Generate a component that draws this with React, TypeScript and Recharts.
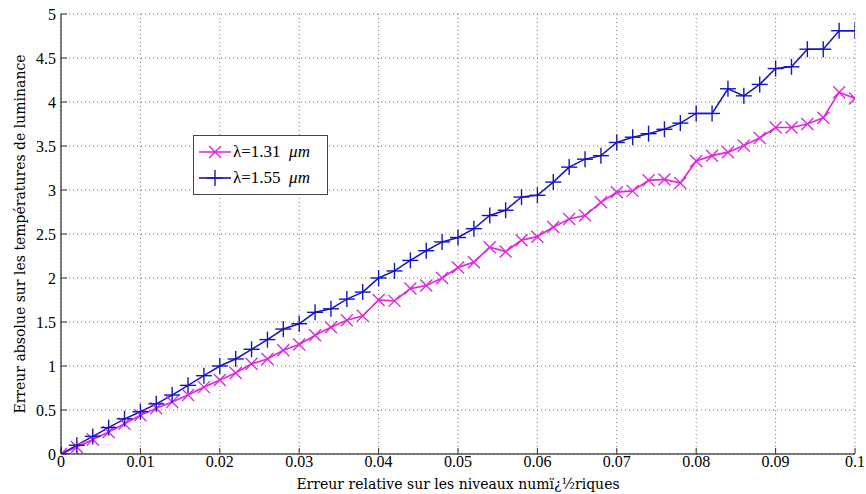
import React from 'react';
import { LineChart, Line, XAxis, YAxis, CartesianGrid, Legend } from 'recharts';

const xValues = [
  0, 0.002, 0.004, 0.006, 0.008, 0.01, 0.012, 0.014, 0.016, 0.018,
  0.02, 0.022, 0.024, 0.026, 0.028, 0.03, 0.032, 0.034, 0.036, 0.038,
  0.04, 0.042, 0.044, 0.046, 0.048, 0.05, 0.052, 0.054, 0.056, 0.058,
  0.06, 0.062, 0.064, 0.066, 0.068, 0.07, 0.072, 0.074, 0.076, 0.078,
  0.08, 0.082, 0.084, 0.086, 0.088, 0.09, 0.092, 0.094, 0.096, 0.098, 0.1,
];

// λ = 1.31 µm (magenta, x markers)
const series131 = [
  0, 0.08, 0.165, 0.25, 0.345, 0.44, 0.52, 0.59, 0.67, 0.76,
  0.84, 0.92, 1.025, 1.08, 1.18, 1.245, 1.35, 1.44, 1.52, 1.57,
  1.75, 1.74, 1.88, 1.915, 2.0, 2.12, 2.18, 2.35, 2.3, 2.43,
  2.47, 2.58, 2.67, 2.71, 2.86, 2.975, 2.99, 3.11, 3.12, 3.08,
  3.33, 3.39, 3.43, 3.505, 3.59, 3.71, 3.71, 3.75, 3.82, 4.11, 4.04,
];

// λ = 1.55 µm (blue, + markers)
const series155 = [
  0, 0.1, 0.2, 0.3, 0.4, 0.48, 0.57, 0.67, 0.78, 0.89,
  1.0, 1.08, 1.19, 1.3, 1.42, 1.48, 1.61, 1.65, 1.76, 1.84,
  2.0, 2.08, 2.2, 2.31, 2.41, 2.46, 2.56, 2.71, 2.77, 2.92,
  2.94, 3.09, 3.26, 3.35, 3.39, 3.54, 3.6, 3.64, 3.69, 3.76,
  3.87, 3.87, 4.15, 4.07, 4.2, 4.38, 4.4, 4.6, 4.6, 4.81, 4.81,
];

const xTicks = [0, 0.01, 0.02, 0.03, 0.04, 0.05, 0.06, 0.07, 0.08, 0.09, 0.1];
const xTickLabels = ['0', '0.01', '0.02', '0.03', '0.04', '0.05', '0.06', '0.07', '0.08', '0.09', '0.1'];
const yTicks = [0, 0.5, 1, 1.5, 2, 2.5, 3, 3.5, 4, 4.5, 5];
const yTickLabels = ['0', '0.5', '1', '1.5', '2', '2.5', '3', '3.5', '4', '4.5', '5'];

const seriesNames = ['λ=1.31', 'λ=1.55'];
const xLabel = 'Erreur relative sur les niveaux numï¿½riques';
const yLabel = 'Erreur absolue sur les températures de luminance';

const MAGENTA = '#e028e0';
const BLUE = '#1414c4';
const FONT = '"Liberation Serif", "DejaVu Serif", serif';
const LABEL_FONT = '"DejaVu Serif", "Liberation Serif", serif';

const data = xValues.map((x, i) => ({ x, a: series131[i], b: series155[i] }));

const fmtX = (v: number) => {
  const i = xTicks.indexOf(v);
  return i >= 0 ? xTickLabels[i] : String(v);
};
const fmtY = (v: number) => {
  const i = yTicks.indexOf(v);
  return i >= 0 ? yTickLabels[i] : String(v);
};

const XMark = (props: any) => {
  const { cx, cy, index } = props;
  if (cx == null || cy == null) return <g key={`xm-${index}`} />;
  const s = 6;
  return (
    <g key={`xm-${index}`}>
      <line x1={cx - s} y1={cy - s} x2={cx + s} y2={cy + s} stroke={MAGENTA} strokeWidth={1.4} />
      <line x1={cx - s} y1={cy + s} x2={cx + s} y2={cy - s} stroke={MAGENTA} strokeWidth={1.4} />
    </g>
  );
};

const PlusMark = (props: any) => {
  const { cx, cy, index } = props;
  if (cx == null || cy == null) return <g key={`pm-${index}`} />;
  const s = 8;
  return (
    <g key={`pm-${index}`}>
      <line x1={cx - s} y1={cy} x2={cx + s} y2={cy} stroke={BLUE} strokeWidth={1.4} />
      <line x1={cx} y1={cy - s} x2={cx} y2={cy + s} stroke={BLUE} strokeWidth={1.4} />
    </g>
  );
};

const LegendContent = () => {
  const items = [
    { name: seriesNames[0], color: MAGENTA, mark: 'x' },
    { name: seriesNames[1], color: BLUE, mark: '+' },
  ];
  return (
    <div
      style={{
        border: '1px solid #444',
        background: '#fff',
        padding: '3px 4px 3px 3px',
        fontFamily: FONT,
        fontSize: 17,
        color: '#000',
        width: 126,
      }}
    >
      {items.map((it) => (
        <div key={it.name} style={{ display: 'flex', alignItems: 'center', height: 26 }}>
          <svg width={36} height={20} style={{ display: 'block' }}>
            <line x1={2} y1={10} x2={34} y2={10} stroke={it.color} strokeWidth={1.6} />
            {it.mark === 'x' ? (
              <g>
                <line x1={12} y1={4} x2={24} y2={16} stroke={it.color} strokeWidth={1.4} />
                <line x1={12} y1={16} x2={24} y2={4} stroke={it.color} strokeWidth={1.4} />
              </g>
            ) : (
              <g>
                <line x1={10} y1={10} x2={26} y2={10} stroke={it.color} strokeWidth={1.4} />
                <line x1={18} y1={2} x2={18} y2={18} stroke={it.color} strokeWidth={1.4} />
              </g>
            )}
          </svg>
          <span style={{ whiteSpace: 'pre' }}>
            {it.name}
            {'  '}
            <i>μm</i>
          </span>
        </div>
      ))}
    </div>
  );
};

export default function App() {
  const tickStyle = { fill: '#000', fontSize: 16, fontFamily: FONT };
  return (
    <div style={{ position: 'absolute', left: 0, top: 0, width: 866, height: 494, background: '#fff', fontFamily: FONT }}>
      <LineChart width={866} height={494} data={data} margin={{ top: 14, right: 11, left: 0, bottom: 0 }}>
        <CartesianGrid stroke="#777" strokeDasharray="1 3" />
        <XAxis
          xAxisId={0}
          dataKey="x"
          type="number"
          domain={[0, 0.1]}
          ticks={xTicks}
          tickFormatter={fmtX}
          height={40}
          tickSize={-6}
          tickMargin={8}
          tick={tickStyle}
          axisLine={{ stroke: '#000' }}
          tickLine={{ stroke: '#333' }}
          allowDataOverflow
          label={{ value: xLabel, position: 'insideBottom', offset: 5, fill: '#000', fontSize: 14, fontFamily: LABEL_FONT }}
        />
        <XAxis
          xAxisId="top"
          orientation="top"
          dataKey="x"
          type="number"
          domain={[0, 0.1]}
          ticks={xTicks}
          height={0}
          tickSize={-6}
          tick={false}
          axisLine={{ stroke: '#000' }}
          tickLine={{ stroke: '#333' }}
          allowDataOverflow
        />
        <YAxis
          yAxisId={0}
          type="number"
          domain={[0, 5]}
          ticks={yTicks}
          tickFormatter={fmtY}
          width={61}
          tickSize={-6}
          tickMargin={11}
          tick={tickStyle}
          axisLine={{ stroke: '#000' }}
          tickLine={{ stroke: '#333' }}
          allowDataOverflow
          label={{ value: yLabel, angle: -90, position: 'insideLeft', offset: 20, fill: '#000', fontSize: 14, fontFamily: LABEL_FONT, style: { textAnchor: 'middle' } }}
        />
        <YAxis
          yAxisId="right"
          orientation="right"
          type="number"
          domain={[0, 5]}
          ticks={yTicks}
          width={0}
          tickSize={-6}
          tick={false}
          axisLine={{ stroke: '#000' }}
          tickLine={{ stroke: '#333' }}
          allowDataOverflow
        />
        <Legend
          layout="vertical"
          align="center"
          verticalAlign="middle"
          content={<LegendContent />}
          wrapperStyle={{ position: 'absolute', left: 193, top: 135, width: 'auto', height: 'auto' }}
        />
        <Line
          xAxisId={0}
          yAxisId={0}
          type="linear"
          dataKey="a"
          name={seriesNames[0]}
          stroke={MAGENTA}
          strokeWidth={1.7}
          dot={XMark}
          activeDot={false}
          isAnimationActive={false}
        />
        <Line
          xAxisId={0}
          yAxisId={0}
          type="linear"
          dataKey="b"
          name={seriesNames[1]}
          stroke={BLUE}
          strokeWidth={1.5}
          dot={PlusMark}
          activeDot={false}
          isAnimationActive={false}
        />
      </LineChart>
    </div>
  );
}
